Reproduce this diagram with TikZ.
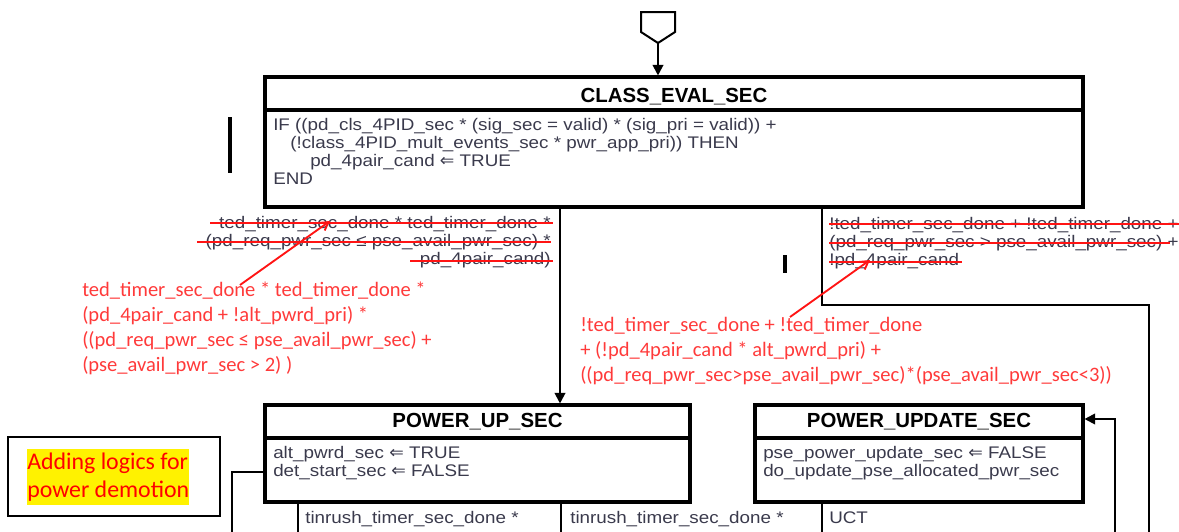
\documentclass[tikz,border=0pt]{standalone}
\usepackage{fontspec}
\setmainfont{Liberation Sans}
\newfontfamily\arialw[FakeStretch=1.12]{Liberation Sans}
\newfontfamily\calib{Carlito}
\newfontfamily\djv{DejaVu Sans}
\usetikzlibrary{arrows.meta,fit}
\definecolor{txt}{HTML}{3A3A4C}
\definecolor{redtxt}{HTML}{FF3A3A}
\definecolor{redln}{HTML}{FF1414}
\newcommand{\lar}{{\djv\fontsize{13pt}{13pt}\selectfont ⇐}}
\begin{document}
\begin{tikzpicture}[x=0.75pt,y=-0.75pt,
  statebox/.style={draw=black, line width=2.3pt, inner sep=0pt},
  wire/.style={draw=black, line width=1.5pt},
  arr/.style={wire, -{Triangle[length=8pt,width=8pt]}},
  titletext/.style={font=\fontsize{15.3pt}{16pt}\selectfont\bfseries, anchor=base, inner sep=0pt},
  body/.style={font=\arialw\fontsize{12.6pt}{13.4pt}\selectfont, text=txt, anchor=base west, align=left, inner sep=0pt},
  bodyr/.style={body, anchor=base east, align=right},
  redlbl/.style={font=\calib\fontsize{15.4pt}{18.6pt}\selectfont, text=redtxt, anchor=base west, align=left, inner sep=0pt},
  strike/.style={draw=redln, line width=1.3pt},
  redarr/.style={draw=redln, line width=1.4pt, -{Straight Barb[length=6pt,width=7pt]}},
  barmark/.style={draw=black, line width=3.5pt},
]
\useasboundingbox (0,0) rectangle (1179,532);

% entry symbol
\draw[wire] (641,12) -- (675,12) -- (675,32) -- (658,43) -- (641,32) -- cycle;
\coordinate (entrytip) at (658,43);

% CLASS_EVAL_SEC
\node[statebox, fit={(265,77)(1083,207)}] (ces) {};
\draw[statebox] (ces.west |- 0,110) -- (ces.east |- 0,110);
\node[titletext] (cestitle) at (674,102) {CLASS\_EVAL\_SEC};
\node[body] (cesbody) at (273,184) {IF ((pd\_cls\_4PID\_sec * (sig\_sec = valid) * (sig\_pri = valid)) +\\
\hspace*{12.75pt}(!class\_4PID\_mult\_events\_sec * pwr\_app\_pri)) THEN\\
\hspace*{27.75pt}pd\_4pair\_cand \lar{} TRUE\\
END};
\draw[arr] (entrytip) -- (entrytip |- ces.north);

% bar marks
\draw[barmark] (230,117) -- (230,173);
\draw[barmark] (785,255) -- (785,273);

% POWER_UP_SEC
\node[statebox, fit={(265,405)(690,502)}] (pus) {};
\draw[statebox] (pus.west |- 0,438) -- (pus.east |- 0,438);
\node[titletext] (pustitle) at (477.5,427) {POWER\_UP\_SEC};
\node[body] (pusbody) at (273,476) {alt\_pwrd\_sec \lar{} TRUE\\det\_start\_sec \lar{} FALSE};

% POWER_UPDATE_SEC
\node[statebox, fit={(755,405)(1083,502)}] (pud) {};
\draw[statebox] (pud.west |- 0,438) -- (pud.east |- 0,438);
\node[titletext] (pudtitle) at (919,427) {POWER\_UPDATE\_SEC};
\node[body] (pudbody) at (763,476) {pse\_power\_update\_sec \lar{} FALSE\\do\_update\_pse\_allocated\_pwr\_sec};

% transitions from CLASS_EVAL_SEC
\draw[arr] (ces.south -| 560,0) -- (pus.north -| 560,0);
\coordinate (c1) at (822,305);
\coordinate (c2) at (1149,305);
\coordinate (c3) at (1149,532);
\draw[wire] (ces.south -| c1) -- (c1) -- (c2) -- (c3);

% struck-out labels
\node[bodyr] (oldL) at (551,264) {ted\_timer\_sec\_done * ted\_timer\_done *\\
(pd\_req\_pwr\_sec ≤ pse\_avail\_pwr\_sec) *\\
pd\_4pair\_cand)};
\draw[strike] (210,223) -- (553,223);
\draw[strike] (197,242) -- (551,242);
\draw[strike] (410,261) -- (553,261);

\node[body] (oldR) at (829,265) {!ted\_timer\_sec\_done + !ted\_timer\_done +\\
(pd\_req\_pwr\_sec > pse\_avail\_pwr\_sec) +\\
!pd\_4pair\_cand};
\draw[strike] (829,224) -- (1179,224);
\draw[strike] (829,243) -- (1170,243);
\draw[strike] (829,262) -- (962,262);

% new red labels
\node[redlbl] (newL) at (82,371) {ted\_timer\_sec\_done * ted\_timer\_done *\\
(pd\_4pair\_cand + !alt\_pwrd\_pri) *\\
((pd\_req\_pwr\_sec ≤ pse\_avail\_pwr\_sec) +\\
(pse\_avail\_pwr\_sec > 2) )};
\coordinate (nLs) at (240,285);
\coordinate (nLe) at (330,221);
\draw[redarr] (nLs) -- (nLe);

\node[redlbl] (newR) at (580,381) {!ted\_timer\_sec\_done + !ted\_timer\_done\\
+ (!pd\_4pair\_cand * alt\_pwrd\_pri) +\\
((pd\_req\_pwr\_sec>pse\_avail\_pwr\_sec)*(pse\_avail\_pwr\_sec<3))};
\coordinate (nRs) at (790,317);
\coordinate (nRe) at (870,260);
\draw[redarr] (nRs) -- (nRe);

% transitions below
\coordinate (loopL) at (232,472);
\coordinate (loopLb) at (232,532);
\draw[wire] (pus.west |- loopL) -- (loopL) -- (loopLb);
\coordinate (t1b) at (298,532);
\coordinate (t2b) at (561,532);
\coordinate (t3b) at (822,532);
\draw[wire] (pus.south -| t1b) -- (t1b);
\draw[wire] (pus.south -| t2b) -- (t2b);
\draw[wire] (pud.south -| t3b) -- (t3b);
\node[body] (tin1) at (305,523) {tinrush\_timer\_sec\_done *};
\node[body] (tin2) at (570,523) {tinrush\_timer\_sec\_done *};
\node[body] (uct) at (829,523) {UCT};
\coordinate (upd) at (1115,532);
\draw[arr] (upd) -- (1115,419) -- (pud.east |- 0,419);

% note box
\node[draw=black, line width=0.8pt, inner sep=0pt, fit={(8,437)(220,516)}] (note) {};
\node[fill=yellow, text=red, font=\calib\fontsize{17.9pt}{20.3pt}\selectfont, align=left, inner xsep=0pt, inner ysep=3pt, anchor=base west] (notetext) at (27,497) {Adding logics for\\power demotion};
\end{tikzpicture}
\end{document}
